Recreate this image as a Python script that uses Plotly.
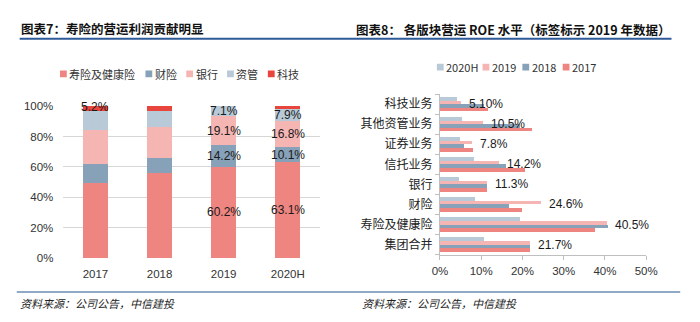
import plotly.graph_objects as go

# ---------------- data: left chart (operating profit contribution) ----------------
years_left = ["2017", "2018", "2019", "2020H"]
seg_names = ["寿险及健康险", "财险", "银行", "资管", "科技"]
life = [49.6, 56.1, 60.2, 63.1]
pc = [12.6, 9.9, 14.2, 10.1]
bank = [22.0, 20.1, 19.1, 16.8]
am = [12.6, 10.7, 7.1, 7.9]
tech = [5.2, 3.2, 0.8, 2.1]
# which segment values carry a data label (per segment, per year)
show_life = [False, False, True, True]
show_pc = [False, False, True, True]
show_bank = [False, False, True, True]
show_am = [False, False, True, True]
show_tech = [True, False, False, False]
left_ticks = [0, 20, 40, 60, 80, 100]

# ---------------- data: right chart (ROE by segment) ----------------
segments_right = ["集团合并", "寿险及健康险", "财险", "银行", "信托业务", "证券业务", "其他资管业务", "科技业务"]
roe_2017 = [21.9, 37.6, 20.0, 11.5, 20.5, 7.9, 22.3, 11.6]
roe_2018 = [21.8, 40.7, 16.7, 11.5, 16.0, 5.8, 19.5, 10.7]
roe_2019 = [21.7, 40.5, 24.6, 11.3, 14.2, 7.8, 10.5, 5.1]
roe_2020h = [10.7, 19.5, 8.5, 4.5, 8.3, 4.9, 5.4, 4.1]
labels_2019 = ["21.7%", "40.5%", "24.6%", "11.3%", "14.2%", "7.8%", "10.5%", "5.10%"]
right_series = ["2020H", "2019", "2018", "2017"]
right_ticks = [0, 10, 20, 30, 40, 50]

# ---------------- styles ----------------
C_LIFE = "#EF8581"
C_PC = "#87A1B8"
C_BANK = "#F5B5B3"
C_AM = "#B8CAD8"
C_TECH = "#E8453C"
CJK = "Noto Sans CJK SC"
NUM = "Liberation Sans, Noto Sans CJK SC"
W, H = 700, 322


def px(x):
    return x / W


def py(y):
    return 1 - y / H


fig = go.Figure()

# category positions (index of each year on the left chart's axis)
pos_left = list(range(len(years_left)))

left_series = [
    (seg_names[0], life, C_LIFE, show_life),
    (seg_names[1], pc, C_PC, show_pc),
    (seg_names[2], bank, C_BANK, show_bank),
    (seg_names[3], am, C_AM, show_am),
    (seg_names[4], tech, C_TECH, show_tech),
]
for name, vals, col, _ in left_series:
    fig.add_trace(go.Bar(
        x=pos_left, y=vals, name=name, marker=dict(color=col, line=dict(width=0)),
        width=0.39, xaxis="x", yaxis="y", showlegend=False, hoverinfo="skip",
    ))

annotations = []
# left data labels, at the centre of each labelled segment
base = [0.0] * len(years_left)
for name, vals, col, show in left_series:
    for i, v in enumerate(vals):
        if show[i]:
            annotations.append(dict(
                x=pos_left[i], y=base[i] + v / 2, xref="x", yref="y",
                text=f"{v:.1f}%", showarrow=False, yanchor="middle",
                font=dict(family=NUM, size=12, color="#1A1A1A"),
            ))
        base[i] += v

# right grouped bars (2017 first so it sits at the bottom of each group)
right_traces = [("2017", roe_2017, C_LIFE), ("2018", roe_2018, C_PC),
                ("2019", roe_2019, C_BANK), ("2020H", roe_2020h, C_AM)]
BW = 0.18
for k, (name, vals, col) in enumerate(right_traces):
    fig.add_trace(go.Bar(
        y=segments_right, x=vals, orientation="h", name=name,
        marker=dict(color=col, line=dict(width=0)),
        width=BW, offset=-2 * BW + BW * k, offsetgroup=name,
        xaxis="x2", yaxis="y2", showlegend=False, hoverinfo="skip",
    ))

for seg, v, lab in zip(segments_right, roe_2019, labels_2019):
    annotations.append(dict(
        x=v, y=seg, xref="x2", yref="y2", text=lab, showarrow=False,
        xanchor="left", yanchor="middle", xshift=6,
        font=dict(family=NUM, size=12, color="#1A1A1A"),
    ))

# titles
annotations.append(dict(x=px(11), y=py(23), xref="paper", yref="paper", xanchor="left", yanchor="middle",
                        text="<b>图表7：寿险的营运利润贡献明显</b>", showarrow=False,
                        font=dict(family=CJK, size=12.5, color="#111111")))
annotations.append(dict(x=px(356), y=py(24), xref="paper", yref="paper", xanchor="left", yanchor="middle",
                        text="<b>图表8： 各版块营运 ROE 水平（标签标示 2019 年数据）</b>", showarrow=False,
                        font=dict(family=CJK, size=12.5, color="#111111")))
# sources
for x0 in (10, 362):
    annotations.append(dict(x=px(x0), y=py(309), xref="paper", yref="paper", xanchor="left", yanchor="middle",
                            text="<i>资料来源：公司公告，中信建投</i>", showarrow=False,
                            font=dict(family=CJK, size=11, color="#222222")))

shapes = [
    dict(type="line", xref="paper", yref="paper", x0=px(12), x1=px(683), y0=py(34), y1=py(34),
         line=dict(color="#2E5A97", width=2)),
    dict(type="line", xref="paper", yref="paper", x0=px(9), x1=px(692), y0=py(297), y1=py(297),
         line=dict(color="#8FA9C6", width=2)),
]


# manual legends
def legend(items, xs, ycen, text_dx):
    for (name, col), x in zip(items, xs):
        shapes.append(dict(type="rect", xref="paper", yref="paper",
                           x0=px(x - 3.5), x1=px(x + 3.5), y0=py(ycen + 3.5), y1=py(ycen - 3.5),
                           fillcolor=col, line=dict(width=0)))
        annotations.append(dict(x=px(x + text_dx), y=py(ycen), xref="paper", yref="paper",
                                xanchor="left", yanchor="middle", text=name, showarrow=False,
                                font=dict(family=CJK, size=11, color="#333333")))


legend(list(zip(seg_names, [C_LIFE, C_PC, C_BANK, C_AM, C_TECH])),
       [57, 145, 187, 229, 271], 70.5, 4)
legend(list(zip(right_series, [C_AM, C_BANK, C_PC, C_LIFE])),
       [445, 492, 533, 574.5], 63.5, 4)

fig.update_layout(
    width=W, height=H, margin=dict(l=0, r=0, t=0, b=0),
    paper_bgcolor="white", plot_bgcolor="white",
    barmode="stack", bargap=0.28, bargroupgap=0,
    annotations=annotations, shapes=shapes, showlegend=False,
    xaxis=dict(domain=[px(57), px(321)], anchor="y", type="linear",
               range=[-0.5, len(years_left) - 0.5], tickvals=pos_left, ticktext=years_left,
               showgrid=False, zeroline=False, showline=False, ticks="",
               ticklabelstandoff=7, tickfont=dict(family=NUM, size=11.5, color="#333333")),
    yaxis=dict(domain=[py(262), py(104)], anchor="x", range=[0, 100], tickvals=left_ticks,
               ticktext=[f"{t}%" for t in left_ticks], showgrid=True, gridcolor="#D6D6D6",
               gridwidth=1, zeroline=False, showline=False, ticks="",
               ticklabelstandoff=9, tickfont=dict(family=NUM, size=11.5, color="#333333")),
    xaxis2=dict(domain=[px(444.7), px(657)], anchor="y2", range=[0, 50], tickvals=right_ticks,
                ticktext=[f"{t}%" for t in right_ticks], showgrid=False, zeroline=False,
                showline=True, linecolor="#BFBFBF", linewidth=1, ticks="outside", ticklen=4,
                tickcolor="#BFBFBF", ticklabelstandoff=2,
                tickfont=dict(family=NUM, size=11.5, color="#333333")),
    yaxis2=dict(domain=[py(258.3), py(91.5)], anchor="x2", type="category", categoryorder="array",
                categoryarray=segments_right, showgrid=False, zeroline=False,
                showline=True, linecolor="#BFBFBF", linewidth=1, ticks="outside", ticklen=4,
                tickcolor="#BFBFBF", tickson="boundaries", ticklabelstandoff=4,
                tickfont=dict(family=CJK, size=12, color="#222222")),
)

fig.write_html("out.html")
